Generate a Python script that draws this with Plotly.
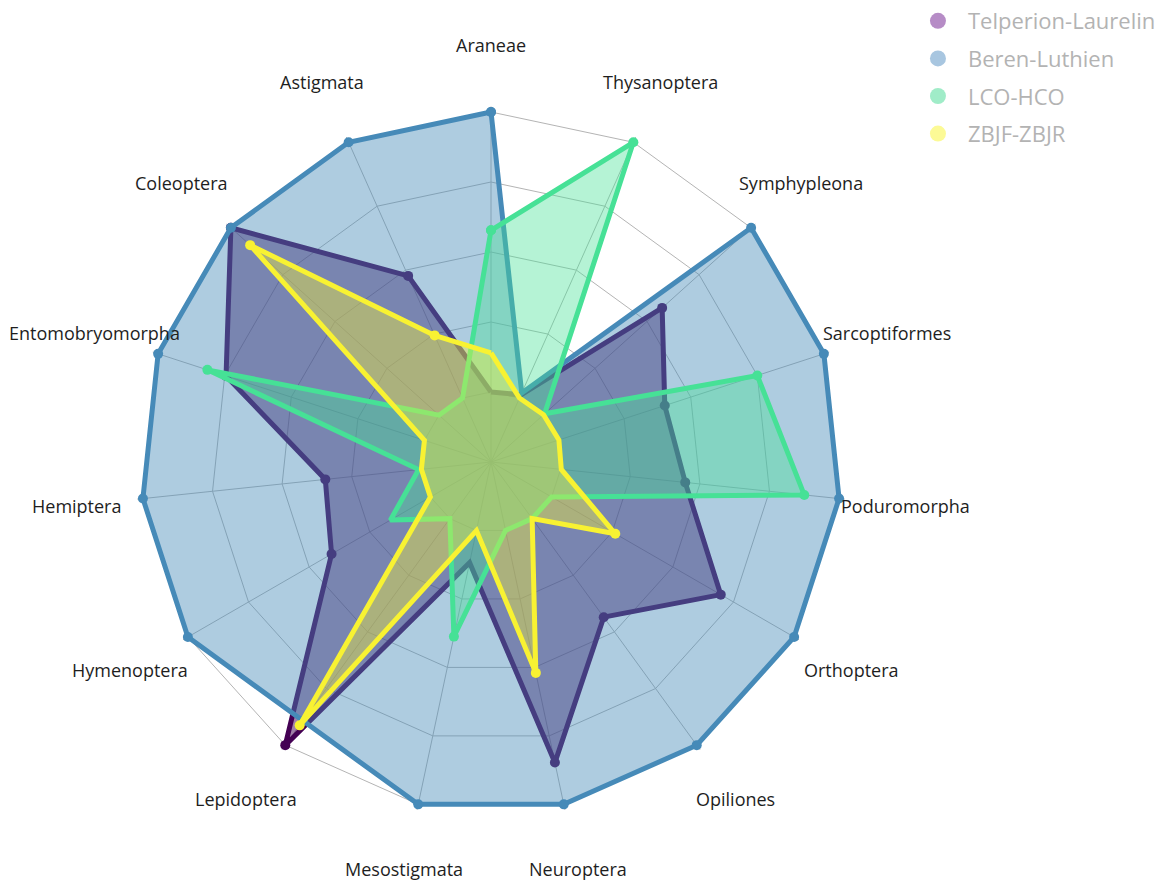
import numpy as np
import plotly.graph_objects as go

# Arthropod orders around the radar, clockwise from the top
categories = [
    "Araneae", "Thysanoptera", "Symphypleona", "Sarcoptiformes", "Poduromorpha",
    "Orthoptera", "Opiliones", "Neuroptera", "Mesostigmata", "Lepidoptera",
    "Hymenoptera", "Hemiptera", "Entomobryomorpha", "Coleoptera", "Astigmata",
]

series_names = ["Telperion-Laurelin", "Beren-Luthien", "LCO-HCO", "ZBJF-ZBJR"]

telperion_laurelin = [0.0, 0.05, 2.29, 1.61, 1.79, 2.79, 1.74, 3.39, 0.47, 4.0, 1.63, 1.38, 2.98, 4.0, 1.91]
beren_luthien = [4.0, 0.08, 4.0, 4.0, 4.0, 4.0, 4.0, 4.0, 4.0, 3.57, 4.0, 4.0, 4.0, 4.0, 4.0]
lco_hco = [2.31, 4.0, 0.03, 3.0, 3.5, 0.0, 0.0, 0.0, 1.55, 0.0, 0.66, 0.04, 3.26, 0.0, 0.0]
zbjf_zbjr = [0.56, 0.0, 0.01, 0.02, 0.01, 1.05, 0.0, 2.08, 0.0, 3.65, 0.0, 0.0, 0.0, 3.63, 0.98]

series_values = [telperion_laurelin, beren_luthien, lco_hco, zbjf_zbjr]

# radial grid levels; the outermost one is the frame
grid_levels = [0, 1, 2, 3, 4]

# styling
line_colors = ["#440154", "#468ab8", "#46e196", "#f8f232"]
fill_colors = [
    "rgba(68,1,84,0.5)",
    "rgba(70,138,184,0.44)",
    "rgba(70,225,150,0.4)",
    "rgba(248,242,50,0.4)",
]
legend_colors = ["#b68cc6", "#a8c6e0", "#a0ecc8", "#fcfa96"]
FONT = "Open Sans, Liberation Sans, Arial, sans-serif"
GRID = "#b4b4b4"

W, H = 1169, 881
R_MIN, R_OUTER = -1, 4
R_PAD = 0.08                       # headroom so thick outlines are not clipped
CENTER_PX = (491, 462)
FRAME_PX = 350                     # pixel radius of the outer grid level
half_px = FRAME_PX * (R_OUTER + R_PAD - R_MIN) / (R_OUTER - R_MIN)
DOMAIN_X = [(CENTER_PX[0] - half_px) / W, (CENTER_PX[0] + half_px) / W]
DOMAIN_Y = [(H - CENTER_PX[1] - half_px) / H, (H - CENTER_PX[1] + half_px) / H]
LABEL_RING = 1.19  # category names sit on a ring 1.19x the frame radius

fig = go.Figure()

for name, vals, lc, fc in zip(series_names, series_values, line_colors, fill_colors):
    fig.add_trace(go.Scatterpolar(
        r=vals + vals[:1],
        theta=categories + categories[:1],
        mode="lines+markers",
        fill="toself",
        fillcolor=fc,
        line=dict(color=lc, width=5),
        marker=dict(color=lc, size=10),
        name=name,
        showlegend=False,
        cliponaxis=False,
    ))

# legend entries
for name, col in zip(series_names, legend_colors):
    fig.add_trace(go.Scatterpolar(
        r=[None], theta=[None],
        mode="markers",
        marker=dict(color=col, size=18),
        name=name,
        legendgroup=name,
        showlegend=True,
    ))

# category names on a ring outside the frame, centred on each spoke
cx = CENTER_PX[0] / W
cy = (H - CENTER_PX[1]) / H
n = len(categories)
for i, cat in enumerate(categories):
    ang = np.deg2rad(90 - 360 * i / n)
    fig.add_annotation(
        x=cx + LABEL_RING * FRAME_PX * np.cos(ang) / W,
        y=cy + LABEL_RING * FRAME_PX * np.sin(ang) / H,
        xref="paper", yref="paper",
        text=cat, showarrow=False,
        xanchor="center", yanchor="middle",
        font=dict(family=FONT, size=18, color="#1e1e1e"),
    )

fig.update_layout(
    width=W, height=H,
    margin=dict(l=0, r=0, t=0, b=0),
    paper_bgcolor="white",
    showlegend=True,
    legend=dict(
        x=0.7767, y=1.0, xanchor="left", yanchor="top",
        font=dict(family=FONT, size=22, color="#b3b3b3"),
        itemwidth=50,
        tracegroupgap=6,
        bgcolor="rgba(0,0,0,0)",
    ),
    polar=dict(
        domain=dict(x=DOMAIN_X, y=DOMAIN_Y),
        bgcolor="white",
        gridshape="linear",
        radialaxis=dict(
            range=[R_MIN, R_OUTER + R_PAD],
            tickmode="array", tickvals=grid_levels,
            showticklabels=False, ticks="", showline=False,
            gridcolor=GRID, gridwidth=1,
        ),
        angularaxis=dict(
            categoryorder="array", categoryarray=categories,
            direction="clockwise", rotation=90,
            showticklabels=False, ticks="",
            showline=False,
            gridcolor=GRID, gridwidth=1,
        ),
    ),
)

fig.write_html("out.html")
